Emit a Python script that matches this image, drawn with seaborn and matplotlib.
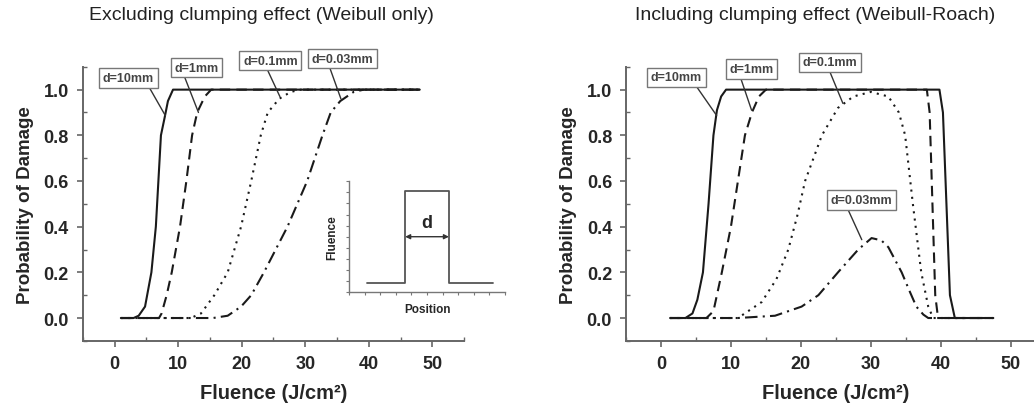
import matplotlib
matplotlib.use("Agg")
import matplotlib.pyplot as plt
import seaborn as sns
import pandas as pd
from matplotlib.ticker import MultipleLocator

# ---- data ----
# Excluding clumping effect (Weibull only)
w_x_10 = [1.0, 3.0, 3.8, 4.8, 5.8, 6.5, 6.9, 7.3, 7.9, 8.4, 9.2, 48.0]
w_p_10 = [0.0, 0.0, 0.01, 0.05, 0.2, 0.4, 0.6, 0.8, 0.88, 0.95, 1.0, 1.0]
w_x_1 = [1.0, 7.0, 7.4, 8.2, 9.0, 10.3, 11.3, 12.2, 13.0, 14.2, 15.2, 48.0]
w_p_1 = [0.0, 0.0, 0.02, 0.1, 0.2, 0.4, 0.6, 0.8, 0.9, 0.97, 1.0, 1.0]
w_x_01 = [1.0, 12.0, 13.6, 15.7, 17.8, 19.9, 21.5, 23.0, 24.1, 25.9, 27.7, 29.3, 48.0]
w_p_01 = [0.0, 0.0, 0.02, 0.1, 0.2, 0.4, 0.6, 0.8, 0.9, 0.96, 0.99, 1.0, 1.0]
w_x_003 = [1.0, 15.5, 17.8, 19.9, 21.5, 23.5, 27.2, 30.3, 32.7, 34.0, 35.5, 37.6, 39.2, 48.0]
w_p_003 = [0.0, 0.0, 0.01, 0.05, 0.1, 0.2, 0.4, 0.6, 0.8, 0.9, 0.95, 0.99, 1.0, 1.0]

# Including clumping effect (Weibull-Roach)
r_x_10 = [1.3, 3.5, 4.5, 5.2, 6.0, 6.8, 7.5, 8.0, 8.6, 9.3, 39.8, 40.3, 40.8, 41.3, 42.0, 47.5]
r_p_10 = [0.0, 0.0, 0.02, 0.08, 0.2, 0.5, 0.8, 0.91, 0.97, 1.0, 1.0, 0.9, 0.5, 0.1, 0.0, 0.0]
r_x_1 = [1.3, 6.5, 7.5, 8.7, 10.0, 11.0, 12.0, 13.0, 14.0, 15.0, 38.0, 38.4, 38.8, 39.2, 39.6, 47.5]
r_p_1 = [0.0, 0.0, 0.03, 0.2, 0.4, 0.6, 0.8, 0.9, 0.97, 1.0, 1.0, 0.9, 0.5, 0.1, 0.0, 0.0]
r_x_01 = [1.3, 11.0, 14.4, 16.5, 18.2, 19.5, 20.6, 21.8, 23.0, 25.3, 27.5, 30.0, 32.5,
          34.0, 34.9, 36.0, 37.2, 38.2, 38.9, 47.5]
r_p_01 = [0.0, 0.0, 0.07, 0.17, 0.3, 0.45, 0.6, 0.7, 0.8, 0.92, 0.97, 0.99, 0.97,
          0.9, 0.8, 0.5, 0.2, 0.05, 0.0, 0.0]
r_x_003 = [1.3, 11.0, 16.3, 20.1, 22.5, 25.3, 28.2, 30.1, 31.5, 32.5, 34.4, 35.5,
           36.5, 37.5, 38.2, 47.5]
r_p_003 = [0.0, 0.0, 0.01, 0.05, 0.1, 0.2, 0.3, 0.35, 0.34, 0.31, 0.2, 0.12,
           0.05, 0.015, 0.0, 0.0]

labels = ["d=10mm", "d=1mm", "d=0.1mm", "d=0.03mm"]

# label box (text position, curve point, leader start relpos)
w_text_xy = [(2.2, 1.05), (12.9, 1.096), (24.5, 1.127), (35.9, 1.136)]
w_point_xy = [(8.0, 0.886), (13.2, 0.90), (26.0, 0.97), (35.6, 0.96)]
w_relpos = [0.87, 0.2, 0.42, 0.27]
r_text_xy = [(2.2, 1.054), (12.95, 1.09), (24.1, 1.119), (28.7, 0.517)]
r_point_xy = [(7.95, 0.887), (12.95, 0.91), (26.0, 0.94), (28.7, 0.343)]
r_relpos = [0.85, 0.23, 0.48, 0.25]

# inset: top-hat fluence profile
inset_pos = [1.15, 3.6, 3.6, 6.4, 6.4, 9.2]
inset_flu = [0.8, 0.8, 9.1, 9.1, 0.8, 0.8]

sns.set_style("ticks")
plt.rcParams['font.family'] = ['Liberation Sans', 'DejaVu Sans']

LINE = "#1a1a1a"
AXC = "#666666"
styles = ["-", (0, (5, 3)), (0, (1, 2.5)), (0, (6, 2.5, 1, 2.5))]


def style_axes(ax):
    sns.despine(ax=ax)
    for s in ["left", "bottom"]:
        ax.spines[s].set_color(AXC)
        ax.spines[s].set_linewidth(1.4)
    ax.set_xlim(-5, 55)
    ax.set_ylim(-0.1, 1.1)
    ax.xaxis.set_major_locator(MultipleLocator(10))
    ax.xaxis.set_minor_locator(MultipleLocator(5))
    ax.yaxis.set_major_locator(MultipleLocator(0.2))
    ax.yaxis.set_minor_locator(MultipleLocator(0.1))
    ax.tick_params(which="major", direction="out", length=4, width=1.2, color=AXC,
                   labelsize=13, pad=6)
    ax.tick_params(which="minor", direction="in", length=3, width=1.0, color=AXC)
    ax.set_yticks([0, 0.2, 0.4, 0.6, 0.8, 1.0])
    ax.set_yticklabels(["0.0", "0.2", "0.4", "0.6", "0.8", "1.0"])
    for t in ax.get_xticklabels() + ax.get_yticklabels():
        t.set_fontweight("bold")
    ax.set_xlabel("Fluence (J/cm²)", fontsize=14.5, fontweight="bold", labelpad=8)
    ax.set_ylabel("Probability of Damage", fontsize=13.5, fontweight="bold", labelpad=7)
    ax.set_facecolor("white")


def draw_curves(ax, xs, ps):
    for x, p, ls in zip(xs, ps, styles):
        df = pd.DataFrame({"Fluence": x, "P": p})
        sns.lineplot(data=df, x="Fluence", y="P", ax=ax, color=LINE, lw=1.5,
                     linestyle=ls, estimator=None, sort=False)


def draw_labels(ax, text_xy, point_xy, relpos):
    for lab, txy, pxy, rp in zip(labels, text_xy, point_xy, relpos):
        ax.annotate(lab, xy=pxy, xytext=txy, ha="center", va="center",
                    fontsize=9, fontweight="bold", color="#444444",
                    bbox=dict(boxstyle="square,pad=0.3", fc="white", ec="#777777", lw=1.0),
                    arrowprops=dict(arrowstyle="-", color="#333333", lw=1.0,
                                    shrinkA=0, shrinkB=0, relpos=(rp, 0.0)),
                    annotation_clip=False)


fig = plt.figure(figsize=(10.34, 4.06), dpi=100)
ax1 = fig.add_axes([0.080, 0.158, 0.369, 0.675])
ax2 = fig.add_axes([0.6054, 0.158, 0.406, 0.675])

draw_curves(ax1, [w_x_10, w_x_1, w_x_01, w_x_003], [w_p_10, w_p_1, w_p_01, w_p_003])
draw_curves(ax2, [r_x_10, r_x_1, r_x_01, r_x_003], [r_p_10, r_p_1, r_p_01, r_p_003])
style_axes(ax1)
style_axes(ax2)
draw_labels(ax1, w_text_xy, w_point_xy, w_relpos)
draw_labels(ax2, r_text_xy, r_point_xy, r_relpos)

fig.text(0.253, 0.962, "Excluding clumping effect (Weibull only)", ha="center",
         va="center", fontsize=14, color="#222222")
fig.text(0.788, 0.962, "Including clumping effect (Weibull-Roach)", ha="center",
         va="center", fontsize=14, color="#222222")

# inset
axi = fig.add_axes([0.3375, 0.278, 0.151, 0.273])
sns.lineplot(x=inset_pos, y=inset_flu, ax=axi, color="#555555", lw=1.3,
             estimator=None, sort=False)
sns.despine(ax=axi)
axi.set_xlim(0, 10)
axi.set_ylim(0, 10)
for s in ["left", "bottom"]:
    axi.spines[s].set_color("#777777")
    axi.spines[s].set_linewidth(1.0)
axi.xaxis.set_major_locator(MultipleLocator(1))
axi.yaxis.set_major_locator(MultipleLocator(1))
axi.tick_params(direction="out", length=2, width=0.8, color="#777777",
                labelbottom=False, labelleft=False)
axi.set_xlabel("Position", fontsize=8.5, fontweight="bold", labelpad=6)
axi.set_ylabel("Fluence", fontsize=8.5, fontweight="bold", labelpad=6)
axi.annotate("", xy=(3.6, 5.0), xytext=(6.4, 5.0),
             arrowprops=dict(arrowstyle="<|-|>", color="#333333", lw=1.0,
                             mutation_scale=7, shrinkA=0, shrinkB=0))
axi.text(5.0, 6.3, "d", ha="center", va="center", fontsize=13, fontweight="bold")
axi.patch.set_alpha(0)

fig.savefig("out.png", dpi=100)
